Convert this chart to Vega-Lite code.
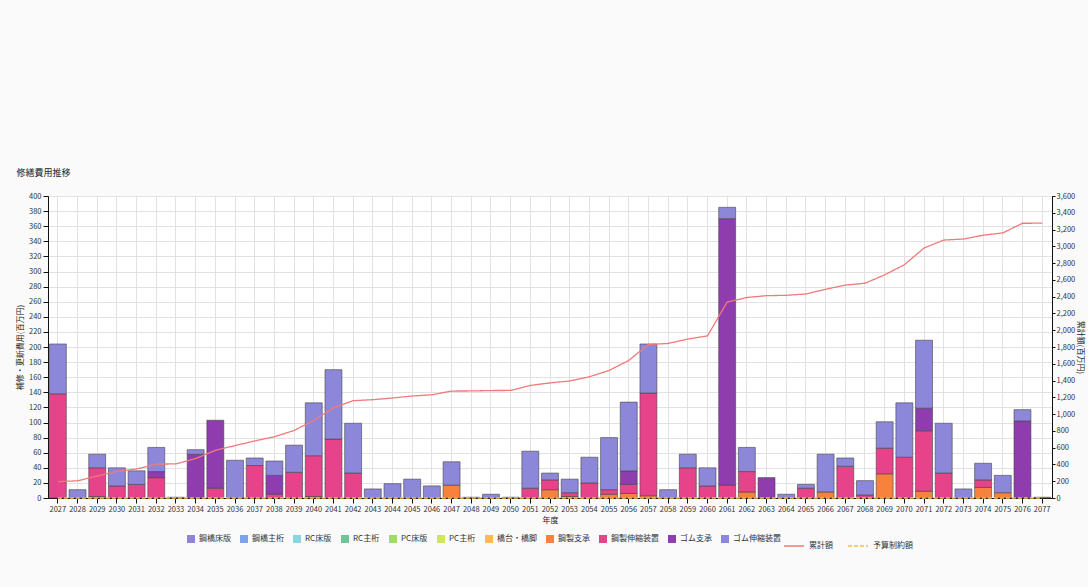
{
  "$schema": "https://vega.github.io/schema/vega-lite/v6.json",
  "autosize": {"type": "none"},
  "width": 1004,
  "height": 302,
  "padding": {"top": 196, "left": 48, "right": 36, "bottom": 89},
  "background": "#fafafa",
  "title": {"text": "修繕費用推移", "anchor": "start", "fontSize": 9, "fontWeight": "normal", "color": "#222", "offset": 14, "font": "Noto Sans CJK JP"},
  "config": {
    "font": "Noto Sans CJK JP",
    "view": {"stroke": "#555", "fill": "white"},
    "axis": {"labelFontSize": 8, "labelColor": "#333", "titleFontSize": 8, "titleFontWeight": "normal", "titleColor": "#222", "domainColor": "#111", "tickColor": "#111", "gridColor": "#e2e2e2"},
    "legend": {"labelFontSize": 8, "labelColor": "#333", "orient": "bottom", "direction": "horizontal", "title": null, "columnPadding": 9, "offset": 10, "labelOffset": 4,
      "layout": {"bottom": {"anchor": "middle", "direction": "horizontal", "margin": 2}}}
  },
  "datasets": {
    "parts": [
      {"part": "鋼橋床版", "order": 1}, {"part": "鋼橋主桁", "order": 2}, {"part": "RC床版", "order": 3},
      {"part": "RC主桁", "order": 4}, {"part": "PC床版", "order": 5}, {"part": "PC主桁", "order": 6},
      {"part": "橋台・橋脚", "order": 7}, {"part": "鋼製支承", "order": 8}, {"part": "鋼製伸縮装置", "order": 9},
      {"part": "ゴム支承", "order": 10}, {"part": "ゴム伸縮装置", "order": 11}
    ],
    "costs": [
      {"year": "2027", "part": "鋼製伸縮装置", "cost": 138}, {"year": "2027", "part": "ゴム伸縮装置", "cost": 66},
      {"year": "2028", "part": "ゴム伸縮装置", "cost": 11},
      {"year": "2029", "part": "鋼製支承", "cost": 2}, {"year": "2029", "part": "鋼製伸縮装置", "cost": 38}, {"year": "2029", "part": "ゴム伸縮装置", "cost": 18},
      {"year": "2030", "part": "鋼製伸縮装置", "cost": 16}, {"year": "2030", "part": "ゴム伸縮装置", "cost": 24},
      {"year": "2031", "part": "鋼製伸縮装置", "cost": 18}, {"year": "2031", "part": "ゴム伸縮装置", "cost": 18},
      {"year": "2032", "part": "鋼製伸縮装置", "cost": 27}, {"year": "2032", "part": "ゴム支承", "cost": 8}, {"year": "2032", "part": "ゴム伸縮装置", "cost": 32},
      {"year": "2033", "part": "鋼製支承", "cost": 1},
      {"year": "2034", "part": "ゴム支承", "cost": 58}, {"year": "2034", "part": "ゴム伸縮装置", "cost": 6},
      {"year": "2035", "part": "鋼製伸縮装置", "cost": 13}, {"year": "2035", "part": "ゴム支承", "cost": 90},
      {"year": "2036", "part": "ゴム伸縮装置", "cost": 50},
      {"year": "2037", "part": "鋼製伸縮装置", "cost": 43}, {"year": "2037", "part": "ゴム伸縮装置", "cost": 10},
      {"year": "2038", "part": "鋼製伸縮装置", "cost": 5}, {"year": "2038", "part": "ゴム支承", "cost": 25}, {"year": "2038", "part": "ゴム伸縮装置", "cost": 19},
      {"year": "2039", "part": "鋼製伸縮装置", "cost": 34}, {"year": "2039", "part": "ゴム伸縮装置", "cost": 36},
      {"year": "2040", "part": "鋼製支承", "cost": 2}, {"year": "2040", "part": "鋼製伸縮装置", "cost": 54}, {"year": "2040", "part": "ゴム伸縮装置", "cost": 70},
      {"year": "2041", "part": "鋼製伸縮装置", "cost": 78}, {"year": "2041", "part": "ゴム伸縮装置", "cost": 92},
      {"year": "2042", "part": "鋼製伸縮装置", "cost": 33}, {"year": "2042", "part": "ゴム伸縮装置", "cost": 66},
      {"year": "2043", "part": "ゴム伸縮装置", "cost": 12},
      {"year": "2044", "part": "ゴム伸縮装置", "cost": 19},
      {"year": "2045", "part": "ゴム伸縮装置", "cost": 25},
      {"year": "2046", "part": "ゴム伸縮装置", "cost": 16},
      {"year": "2047", "part": "鋼製支承", "cost": 17}, {"year": "2047", "part": "ゴム伸縮装置", "cost": 31},
      {"year": "2048", "part": "鋼製支承", "cost": 1},
      {"year": "2049", "part": "ゴム伸縮装置", "cost": 5},
      {"year": "2050", "part": "鋼製支承", "cost": 1},
      {"year": "2051", "part": "鋼製伸縮装置", "cost": 13}, {"year": "2051", "part": "ゴム伸縮装置", "cost": 49},
      {"year": "2052", "part": "鋼製支承", "cost": 11}, {"year": "2052", "part": "鋼製伸縮装置", "cost": 13}, {"year": "2052", "part": "ゴム伸縮装置", "cost": 9},
      {"year": "2053", "part": "鋼製支承", "cost": 2}, {"year": "2053", "part": "鋼製伸縮装置", "cost": 5}, {"year": "2053", "part": "ゴム伸縮装置", "cost": 18},
      {"year": "2054", "part": "鋼製伸縮装置", "cost": 20}, {"year": "2054", "part": "ゴム伸縮装置", "cost": 34},
      {"year": "2055", "part": "鋼製支承", "cost": 5}, {"year": "2055", "part": "鋼製伸縮装置", "cost": 6}, {"year": "2055", "part": "ゴム伸縮装置", "cost": 69},
      {"year": "2056", "part": "鋼製支承", "cost": 6}, {"year": "2056", "part": "鋼製伸縮装置", "cost": 12}, {"year": "2056", "part": "ゴム支承", "cost": 18}, {"year": "2056", "part": "ゴム伸縮装置", "cost": 91},
      {"year": "2057", "part": "鋼製支承", "cost": 3}, {"year": "2057", "part": "鋼製伸縮装置", "cost": 136}, {"year": "2057", "part": "ゴム伸縮装置", "cost": 65},
      {"year": "2058", "part": "ゴム伸縮装置", "cost": 11},
      {"year": "2059", "part": "鋼製伸縮装置", "cost": 40}, {"year": "2059", "part": "ゴム伸縮装置", "cost": 18},
      {"year": "2060", "part": "鋼製伸縮装置", "cost": 16}, {"year": "2060", "part": "ゴム伸縮装置", "cost": 24},
      {"year": "2061", "part": "鋼製伸縮装置", "cost": 17}, {"year": "2061", "part": "ゴム支承", "cost": 353}, {"year": "2061", "part": "ゴム伸縮装置", "cost": 15},
      {"year": "2062", "part": "鋼製支承", "cost": 8}, {"year": "2062", "part": "鋼製伸縮装置", "cost": 27}, {"year": "2062", "part": "ゴム伸縮装置", "cost": 32},
      {"year": "2063", "part": "ゴム支承", "cost": 27},
      {"year": "2064", "part": "ゴム伸縮装置", "cost": 5},
      {"year": "2065", "part": "鋼製伸縮装置", "cost": 13}, {"year": "2065", "part": "ゴム伸縮装置", "cost": 5},
      {"year": "2066", "part": "鋼製支承", "cost": 8}, {"year": "2066", "part": "ゴム伸縮装置", "cost": 50},
      {"year": "2067", "part": "鋼製伸縮装置", "cost": 42}, {"year": "2067", "part": "ゴム伸縮装置", "cost": 11},
      {"year": "2068", "part": "鋼製伸縮装置", "cost": 4}, {"year": "2068", "part": "ゴム伸縮装置", "cost": 19},
      {"year": "2069", "part": "鋼製支承", "cost": 32}, {"year": "2069", "part": "鋼製伸縮装置", "cost": 34}, {"year": "2069", "part": "ゴム伸縮装置", "cost": 35},
      {"year": "2070", "part": "鋼製伸縮装置", "cost": 54}, {"year": "2070", "part": "ゴム伸縮装置", "cost": 72},
      {"year": "2071", "part": "鋼製支承", "cost": 9}, {"year": "2071", "part": "鋼製伸縮装置", "cost": 80}, {"year": "2071", "part": "ゴム支承", "cost": 30}, {"year": "2071", "part": "ゴム伸縮装置", "cost": 90},
      {"year": "2072", "part": "鋼製伸縮装置", "cost": 33}, {"year": "2072", "part": "ゴム伸縮装置", "cost": 66},
      {"year": "2073", "part": "ゴム伸縮装置", "cost": 12},
      {"year": "2074", "part": "鋼製支承", "cost": 14}, {"year": "2074", "part": "鋼製伸縮装置", "cost": 10}, {"year": "2074", "part": "ゴム伸縮装置", "cost": 22},
      {"year": "2075", "part": "鋼製支承", "cost": 7}, {"year": "2075", "part": "ゴム伸縮装置", "cost": 23},
      {"year": "2076", "part": "ゴム支承", "cost": 102}, {"year": "2076", "part": "ゴム伸縮装置", "cost": 15},
      {"year": "2077", "part": "鋼製支承", "cost": 1}
    ],
    "lines": [
      {"year": "2027", "series": "累計額", "value": 195}, {"year": "2028", "series": "累計額", "value": 205},
      {"year": "2029", "series": "累計額", "value": 262}, {"year": "2030", "series": "累計額", "value": 318},
      {"year": "2031", "series": "累計額", "value": 346}, {"year": "2032", "series": "累計額", "value": 405},
      {"year": "2033", "series": "累計額", "value": 406}, {"year": "2034", "series": "累計額", "value": 470},
      {"year": "2035", "series": "累計額", "value": 568}, {"year": "2036", "series": "累計額", "value": 625},
      {"year": "2037", "series": "累計額", "value": 680}, {"year": "2038", "series": "累計額", "value": 730},
      {"year": "2039", "series": "累計額", "value": 805}, {"year": "2040", "series": "累計額", "value": 925},
      {"year": "2041", "series": "累計額", "value": 1075}, {"year": "2042", "series": "累計額", "value": 1160},
      {"year": "2043", "series": "累計額", "value": 1172}, {"year": "2044", "series": "累計額", "value": 1192},
      {"year": "2045", "series": "累計額", "value": 1216}, {"year": "2046", "series": "累計額", "value": 1230},
      {"year": "2047", "series": "累計額", "value": 1275}, {"year": "2048", "series": "累計額", "value": 1276},
      {"year": "2049", "series": "累計額", "value": 1281}, {"year": "2050", "series": "累計額", "value": 1282},
      {"year": "2051", "series": "累計額", "value": 1342}, {"year": "2052", "series": "累計額", "value": 1372},
      {"year": "2053", "series": "累計額", "value": 1395}, {"year": "2054", "series": "累計額", "value": 1445},
      {"year": "2055", "series": "累計額", "value": 1520}, {"year": "2056", "series": "累計額", "value": 1640},
      {"year": "2057", "series": "累計額", "value": 1830}, {"year": "2058", "series": "累計額", "value": 1842},
      {"year": "2059", "series": "累計額", "value": 1895}, {"year": "2060", "series": "累計額", "value": 1932},
      {"year": "2061", "series": "累計額", "value": 2336}, {"year": "2062", "series": "累計額", "value": 2390},
      {"year": "2063", "series": "累計額", "value": 2412}, {"year": "2064", "series": "累計額", "value": 2416},
      {"year": "2065", "series": "累計額", "value": 2432}, {"year": "2066", "series": "累計額", "value": 2488},
      {"year": "2067", "series": "累計額", "value": 2538}, {"year": "2068", "series": "累計額", "value": 2560},
      {"year": "2069", "series": "累計額", "value": 2660}, {"year": "2070", "series": "累計額", "value": 2780},
      {"year": "2071", "series": "累計額", "value": 2980}, {"year": "2072", "series": "累計額", "value": 3075},
      {"year": "2073", "series": "累計額", "value": 3087}, {"year": "2074", "series": "累計額", "value": 3132},
      {"year": "2075", "series": "累計額", "value": 3160}, {"year": "2076", "series": "累計額", "value": 3275},
      {"year": "2077", "series": "累計額", "value": 3276},
      {"year": "2027", "series": "予算制約額", "value": 0}, {"year": "2077", "series": "予算制約額", "value": 0}
    ]
  },
  "layer": [
    {
      "data": {"name": "costs"},
      "transform": [
        {"lookup": "part", "from": {"data": {"name": "parts"}, "key": "part", "fields": ["order"]}}
      ],
      "mark": {"type": "bar", "stroke": "#444", "strokeWidth": 0.6},
      "encoding": {
        "x": {
          "field": "year", "type": "ordinal", "title": "年度",
          "scale": {"paddingInner": 0.14, "paddingOuter": 0.07},
          "axis": {"labelAngle": 0, "grid": true, "titleAnchor": "middle", "titlePadding": 4, "labelFontSize": 7.5}
        },
        "y": {
          "aggregate": "sum", "field": "cost", "type": "quantitative", "stack": "zero",
          "title": "補修・更新費用(百万円)",
          "scale": {"domain": [0, 400], "nice": false},
          "axis": {"orient": "left", "values": [0,20,40,60,80,100,120,140,160,180,200,220,240,260,280,300,320,340,360,380,400], "grid": true, "titlePadding": 4, "labelFontSize": 7.5}
        },
        "color": {
          "field": "part", "type": "nominal",
          "scale": {
            "domain": ["鋼橋床版", "鋼橋主桁", "RC床版", "RC主桁", "PC床版", "PC主桁", "橋台・橋脚", "鋼製支承", "鋼製伸縮装置", "ゴム支承", "ゴム伸縮装置"],
            "range": ["#8f84d6", "#7fa3ea", "#8dd3e2", "#72c496", "#9edb6a", "#d2e65a", "#fdba4f", "#f7823d", "#e6438a", "#8e3cae", "#8c87d9"]
          },
          "legend": {"columns": 11, "symbolType": "square", "symbolSize": 64, "symbolStrokeWidth": 0}
        },
        "order": {"field": "order", "type": "quantitative", "sort": "ascending"}
      }
    },
    {
      "data": {"name": "lines"},
      "mark": {"type": "line", "strokeWidth": 1.3},
      "encoding": {
        "x": {"field": "year", "type": "ordinal"},
        "y": {
          "field": "value", "type": "quantitative", "title": "累計額(百万円)",
          "scale": {"domain": [0, 3600], "nice": false},
          "axis": {"orient": "right", "values": [0,200,400,600,800,1000,1200,1400,1600,1800,2000,2200,2400,2600,2800,3000,3200,3400,3600], "format": ",.0f", "grid": false, "tickSize": 3, "labelPadding": 1, "titlePadding": 1, "labelFontSize": 7.5}
        },
        "stroke": {
          "field": "series", "type": "nominal",
          "scale": {"domain": ["累計額", "予算制約額"], "range": ["#f07a7a", "#f2c04a"]},
          "legend": {"symbolType": "stroke", "symbolSize": 400, "symbolStrokeWidth": 1.3, "columns": 2, "columnPadding": 12}
        },
        "strokeDash": {
          "field": "series", "type": "nominal",
          "scale": {"domain": ["累計額", "予算制約額"], "range": [[1, 0], [4, 2]]}
        }
      }
    }
  ],
  "resolve": {"scale": {"y": "independent"}}
}
